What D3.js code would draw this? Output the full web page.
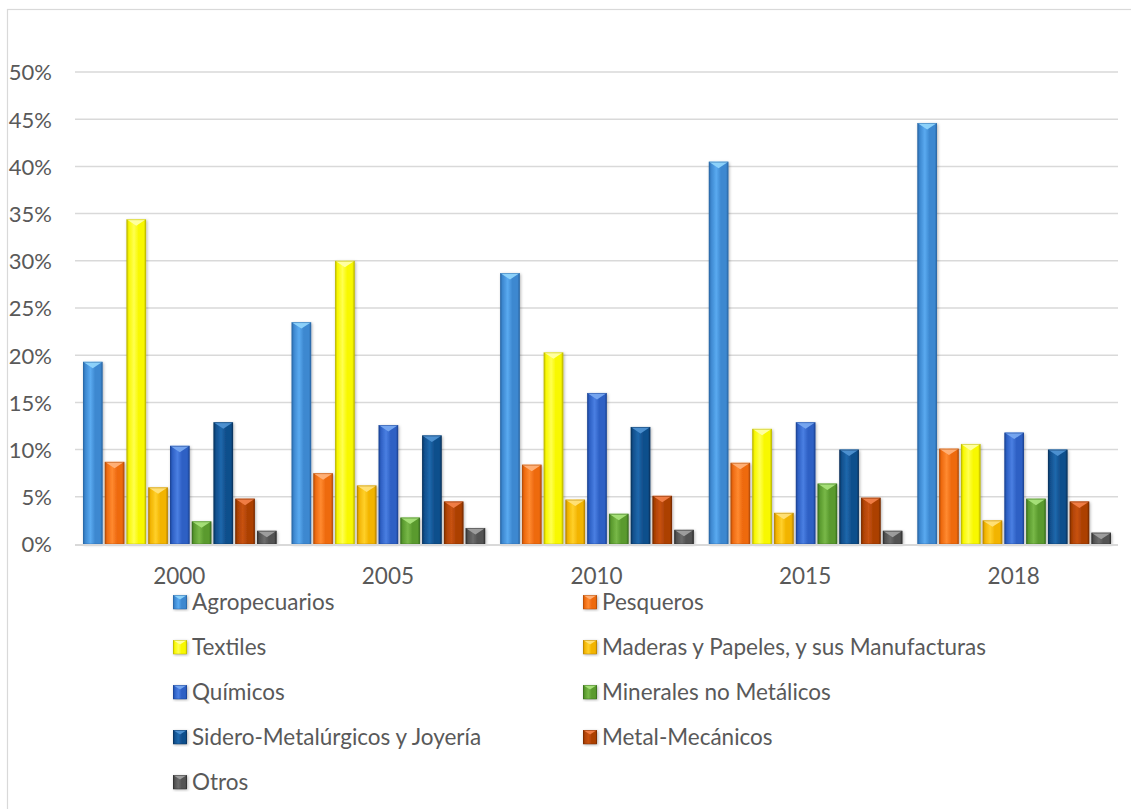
<!DOCTYPE html>
<html>
<head>
<meta charset="utf-8">
<script src="https://cdn.jsdelivr.net/npm/d3@7"></script>
<style>
  html, body { margin: 0; padding: 0; background: #fff; }
  svg { display: block; }
  text { font-family: Lato, "Open Sans", sans-serif; fill: #595959; }
</style>
</head>
<body>
<svg id="chart" width="1131" height="809"></svg>
<script>
// Share of exports by sector, per year
const years = ["2000", "2005", "2010", "2015", "2018"];
const sectors = [
  "Agropecuarios", "Pesqueros", "Textiles", "Maderas y Papeles, y sus Manufacturas",
  "Químicos", "Minerales no Metálicos", "Sidero-Metalúrgicos y Joyería",
  "Metal-Mecánicos", "Otros"
];
const agropecuarios = [0.193, 0.235, 0.287, 0.405, 0.446];
const pesqueros     = [0.087, 0.075, 0.084, 0.086, 0.101];
const textiles      = [0.344, 0.300, 0.203, 0.122, 0.106];
const maderas       = [0.060, 0.062, 0.047, 0.033, 0.025];
const quimicos      = [0.104, 0.126, 0.160, 0.129, 0.118];
const minerales     = [0.024, 0.028, 0.032, 0.064, 0.048];
const sidero        = [0.129, 0.115, 0.124, 0.100, 0.100];
const metalMec      = [0.048, 0.045, 0.051, 0.049, 0.045];
const otros         = [0.014, 0.017, 0.015, 0.014, 0.012];
const seriesValues = [agropecuarios, pesqueros, textiles, maderas, quimicos,
                      minerales, sidero, metalMec, otros];
const yTicks = [0, 0.05, 0.10, 0.15, 0.20, 0.25, 0.30, 0.35, 0.40, 0.45, 0.50];

// bevel palette per sector: [dark edge, base, highlight, top facet]
const palette = [
  ["#2a68a6", "#3d88d0", "#5aaaf0", "#8fd4fb"],
  ["#b34c08", "#ee6a10", "#ff8a30", "#ffb27a"],
  ["#bdb800", "#f8f800", "#ffff50", "#ffffa8"],
  ["#b88400", "#f2b400", "#ffd02a", "#ffe27a"],
  ["#1c4495", "#2e60c4", "#4a7fe2", "#78a8f0"],
  ["#3a7020", "#5a9a2e", "#78b848", "#a8e27a"],
  ["#0a345e", "#114f8c", "#1f68ac", "#4f92d2"],
  ["#782c02", "#ac4104", "#c85212", "#f28048"],
  ["#303030", "#525252", "#6c6c6c", "#a0a0a0"]
];

const svg = d3.select("#chart");
const defs = svg.append("defs");

palette.forEach((c, i) => {
  const g = defs.append("linearGradient").attr("id", "grad" + i)
    .attr("x1", "0%").attr("x2", "100%").attr("y1", "0%").attr("y2", "0%");
  [[0, c[0]], [0.12, c[1]], [0.38, c[2]], [0.62, c[1]], [0.88, c[1]], [1, c[0]]]
    .forEach(([o, col]) => g.append("stop").attr("offset", o).attr("stop-color", col));
});

const shadow = defs.append("filter").attr("id", "shadow")
  .attr("x", "-30%").attr("y", "-10%").attr("width", "160%").attr("height", "130%");
shadow.append("feDropShadow").attr("dx", 1).attr("dy", 1)
  .attr("stdDeviation", 1.6).attr("flood-color", "#000").attr("flood-opacity", 0.3);

// chart frame
svg.append("rect").attr("x", 7.5).attr("y", 9.5).attr("width", 1140).attr("height", 820)
  .attr("fill", "none").attr("stroke", "#d9d9d9").attr("stroke-width", 1.2);

const plotLeft = 75, plotRight = 1118, plotTop = 72, plotBottom = 544;

const x0 = d3.scaleBand().domain(years).range([plotLeft, plotRight]);
const x1 = d3.scaleBand().domain(d3.range(sectors.length))
  .range([8, x0.bandwidth() - 7]).paddingInner(0.1);
const y = d3.scaleLinear().domain([0, 0.5]).range([plotBottom, plotTop]);

// gridlines
svg.append("g").selectAll("line").data(yTicks.slice(1)).join("line")
  .attr("x1", plotLeft).attr("x2", plotRight)
  .attr("y1", d => y(d)).attr("y2", d => y(d))
  .attr("stroke", "#d9d9d9").attr("stroke-width", 1.5);

// y-axis labels
const yAxis = d3.axisLeft(y).tickValues(yTicks).tickFormat(d3.format(".0%")).tickSize(0).tickPadding(0);
const yg = svg.append("g").attr("transform", "translate(52,0)").call(yAxis);
yg.select(".domain").remove();
yg.selectAll("text").attr("font-size", 22).attr("font-family", "Lato, sans-serif")
  .attr("fill", "#595959").attr("dy", "0.36em");

// bevelled bar
function drawBar(g, x, yTop, w, h, i) {
  const c = palette[i];
  g.append("rect").attr("x", x).attr("y", yTop).attr("width", w).attr("height", h)
    .attr("fill", `url(#grad${i})`).attr("filter", "url(#shadow)");
  const t = Math.min(w * 0.33, h * 0.9);
  g.append("path")
    .attr("d", `M${x},${yTop}L${x + w},${yTop}L${x + w / 2},${yTop + t}Z`)
    .attr("fill", c[3]).attr("opacity", 0.95);
  g.append("rect").attr("x", x + 0.5).attr("y", yTop + 0.5).attr("width", w - 1).attr("height", h - 0.5)
    .attr("fill", "none").attr("stroke", c[0]).attr("stroke-width", 0.8).attr("opacity", 0.6);
}

const barsG = svg.append("g");
years.forEach((yr, yi) => {
  seriesValues.forEach((vals, si) => {
    const v = vals[yi];
    const bx = x0(yr) + x1(si);
    drawBar(barsG, bx, y(v), x1.bandwidth(), y(0) - y(v), si);
  });
});

// baseline
svg.append("line").attr("x1", plotLeft).attr("x2", plotRight)
  .attr("y1", plotBottom + 1).attr("y2", plotBottom + 1)
  .attr("stroke", "#d9d9d9").attr("stroke-width", 2);

// x-axis labels
const xAxis = d3.axisBottom(x0).tickSize(0).tickPadding(0);
const xg = svg.append("g").attr("transform", `translate(0,${plotBottom + 32})`).call(xAxis);
xg.select(".domain").remove();
xg.selectAll("text").attr("font-size", 22.5).attr("font-family", "Lato, sans-serif")
  .attr("fill", "#595959").attr("dy", "0.36em");

// legend, two columns
const legendRows = [602, 647, 692, 737, 782];
const legendCols = [173, 583];
const leg = svg.append("g");
sectors.forEach((name, i) => {
  const lx = legendCols[i % 2], ly = legendRows[Math.floor(i / 2)];
  const s = 14;
  drawBar(leg, lx, ly - s / 2, s, s, i);
  leg.append("text").attr("x", lx + s + 5).attr("y", ly).attr("dy", "0.36em")
    .attr("font-size", 22.5).text(name);
});
</script>
</body>
</html>
